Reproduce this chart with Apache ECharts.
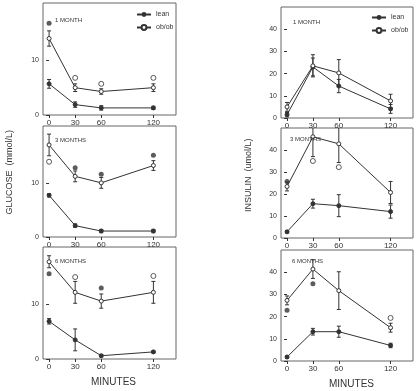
<!DOCTYPE html>
<html><head><meta charset="utf-8">
<script src="https://cdn.jsdelivr.net/npm/echarts@6/dist/echarts.min.js"></script>
<style>html,body{margin:0;padding:0;background:#fff}#c{width:420px;height:391px}</style>
</head><body><div id="c"></div>
<script>
// ---------- data ----------
const minutes = [0, 30, 60, 120];
const xTicks = [0, 30, 60, 120];
const glucoseTicks = [0, 10];
const insulinTicks = [0, 10, 20, 30, 40];
const panelLabels = ['1 MONTH', '3 MONTHS', '6 MONTHS'];
const seriesNames = ['lean', 'ob/ob'];

// Glucose (mmol/L)
const gluLean1 = [5.7, 1.9, 1.3, 1.3];
const gluLeanErr1 = [0.8, 0.5, 0.4, 0.3];
const gluOb1 = [14.0, 5.0, 4.3, 5.0];
const gluObErr1 = [1.4, 0.7, 0.5, 0.7];
const gluMarkFilled1 = [[0, 16.8]];
const gluMarkOpen1 = [[30, 6.8], [60, 5.7], [120, 6.8]];

const gluLean3 = [7.7, 2.1, 1.1, 1.1];
const gluLeanErr3 = [0.3, 0.3, 0.3, 0.3];
const gluOb3 = [17.0, 11.2, 10.0, 13.2];
const gluObErr3 = [2.0, 1.0, 1.0, 0.9];
const gluMarkFilled3 = [[30, 12.8], [60, 11.6], [120, 15.1]];
const gluMarkOpen3 = [[0, 13.9]];

const gluLean6 = [6.9, 3.5, 0.6, 1.3];
const gluLeanErr6 = [0.5, 2.0, 0.2, 0.2];
const gluOb6 = [17.8, 12.2, 10.6, 12.2];
const gluObErr6 = [1.1, 2.0, 1.3, 2.0];
const gluMarkFilled6 = [[0, 15.6], [60, 13.0]];
const gluMarkOpen6 = [[30, 15.0], [120, 15.2]];

// Insulin
const insLean1 = [1.5, 23.0, 14.4, 4.1];
const insLeanErr1 = [1.0, 4.0, 3.0, 2.0];
const insOb1 = [5.0, 23.5, 20.3, 7.7];
const insObErr1 = [2.0, 5.0, 6.0, 3.0];
const insMarkFilled1 = [];
const insMarkOpen1 = [];

const insLean3 = [2.8, 15.6, 14.7, 12.0];
const insLeanErr3 = [0.5, 2.0, 5.0, 3.0];
const insOb3 = [23.4, 46.0, 42.8, 20.7];
const insObErr3 = [2.0, 9.0, 8.5, 5.0];
const insMarkFilled3 = [[0, 25.7]];
const insMarkOpen3 = [[30, 35.0], [60, 32.2]];

const insLean6 = [1.8, 13.2, 13.2, 7.0];
const insLeanErr6 = [0.5, 1.5, 2.5, 1.0];
const insOb6 = [27.3, 41.4, 31.7, 15.0];
const insObErr6 = [2.0, 4.2, 8.5, 2.0];
const insMarkFilled6 = [[0, 22.9], [30, 34.8]];
const insMarkOpen6 = [[120, 19.4]];

// ---------- layout ----------
const INK = '#333';
const FONT = 'Liberation Sans, Arial, sans-serif';
const panels = [
  {grid:{left:43,width:133,top:3,height:112}, yMax:20.5, yTicks:glucoseTicks, label:panelLabels[0], lx:50, ly:12,
   lean:gluLean1, leanErr:gluLeanErr1, ob:gluOb1, obErr:gluObErr1, mf:gluMarkFilled1, mo:gluMarkOpen1},
  {grid:{left:43,width:133,top:126,height:111}, yMax:20.5, yTicks:glucoseTicks, label:panelLabels[1], lx:50, ly:132,
   lean:gluLean3, leanErr:gluLeanErr3, ob:gluOb3, obErr:gluObErr3, mf:gluMarkFilled3, mo:gluMarkOpen3},
  {grid:{left:43,width:133,top:247,height:112}, yMax:20.5, yTicks:glucoseTicks, label:panelLabels[2], lx:50, ly:253,
   lean:gluLean6, leanErr:gluLeanErr6, ob:gluOb6, obErr:gluObErr6, mf:gluMarkFilled6, mo:gluMarkOpen6},
  {grid:{left:281,width:132,top:7,height:111}, yMax:50, yTicks:insulinTicks, label:panelLabels[0], lx:288, ly:14,
   lean:insLean1, leanErr:insLeanErr1, ob:insOb1, obErr:insObErr1, mf:insMarkFilled1, mo:insMarkOpen1},
  {grid:{left:281,width:132,top:128,height:110}, yMax:50, yTicks:insulinTicks, label:panelLabels[1], lx:285, ly:131,
   lean:insLean3, leanErr:insLeanErr3, ob:insOb3, obErr:insObErr3, mf:insMarkFilled3, mo:insMarkOpen3},
  {grid:{left:281,width:132,top:250,height:111}, yMax:50, yTicks:insulinTicks, label:panelLabels[2], lx:287, ly:253,
   lean:insLean6, leanErr:insLeanErr6, ob:insOb6, obErr:insObErr6, mf:insMarkFilled6, mo:insMarkOpen6}
];

function errRender(params, api) {
  const x = api.value(0), lo = api.value(1), hi = api.value(2);
  const cs = params.coordSys;
  const p1 = api.coord([x, hi]), p2 = api.coord([x, lo]);
  const style = {stroke: INK, lineWidth: 1};
  const w = 2;
  const kids = [];
  let top = p1[1], bot = p2[1];
  const topClipped = top < cs.y, botClipped = bot > cs.y + cs.height;
  top = Math.max(top, cs.y); bot = Math.min(bot, cs.y + cs.height);
  kids.push({type:'line', shape:{x1:p1[0], y1:top, x2:p1[0], y2:bot}, style});
  if (!topClipped) kids.push({type:'line', shape:{x1:p1[0]-w, y1:top, x2:p1[0]+w, y2:top}, style});
  if (!botClipped) kids.push({type:'line', shape:{x1:p1[0]-w, y1:bot, x2:p1[0]+w, y2:bot}, style});
  return {type:'group', children:kids};
}

const openStyle = {color:'#fff', borderColor:INK, borderWidth:1};
const grid = [], xAxis = [], yAxis = [], series = [], title = [];
panels.forEach((p, i) => {
  grid.push(Object.assign({show:true, borderColor:'#666', borderWidth:1, backgroundColor:'transparent'}, p.grid));
  xAxis.push({type:'value', gridIndex:i, min:-7, max:146,
    axisLine:{show:false}, splitLine:{show:false},
    axisTick:{show:true, customValues:xTicks, length:3, lineStyle:{color:INK}},
    axisLabel:{customValues:xTicks, fontSize:8, color:INK, margin:4, fontFamily:FONT}});
  yAxis.push({type:'value', gridIndex:i, min:0, max:p.yMax,
    axisLine:{show:false}, splitLine:{show:false},
    axisTick:{show:true, customValues:p.yTicks, length:3, lineStyle:{color:INK}},
    axisLabel:{customValues:p.yTicks, fontSize:7, color:INK, margin:4, fontFamily:FONT}});
  title.push({text:p.label, left:p.lx, top:p.ly, textStyle:{fontSize:6, fontWeight:'normal', color:INK, fontFamily:FONT}});
  const lineBase = {type:'line', xAxisIndex:i, yAxisIndex:i, symbolSize:4, z:3,
    lineStyle:{color:INK, width:1}, animation:false};
  series.push(Object.assign({}, lineBase, {name:seriesNames[0], symbol:'circle',
    itemStyle:{color:INK, borderColor:INK},
    data:minutes.map((m, k) => [m, p.lean[k]])}));
  series.push(Object.assign({}, lineBase, {name:seriesNames[1], symbol:'circle', symbolSize:4,
    itemStyle:openStyle,
    data:minutes.map((m, k) => [m, p.ob[k]])}));
  series.push({type:'custom', name:'err', xAxisIndex:i, yAxisIndex:i, renderItem:errRender, animation:false, z:2,
    data:minutes.map((m, k) => [m, p.lean[k]-p.leanErr[k], p.lean[k]+p.leanErr[k]])
      .concat(minutes.map((m, k) => [m, p.ob[k]-p.obErr[k], p.ob[k]+p.obErr[k]]))});
  series.push({type:'scatter', name:'sigFilled', xAxisIndex:i, yAxisIndex:i, symbol:'circle', symbolSize:5,
    itemStyle:{color:INK}, data:p.mf, animation:false});
  series.push({type:'scatter', name:'sigOpen', xAxisIndex:i, yAxisIndex:i, symbol:'circle', symbolSize:5,
    itemStyle:openStyle, data:p.mo, animation:false});
});

const legendBase = {orient:'vertical', data:seriesNames, itemWidth:14, itemHeight:6, itemGap:6,
  textStyle:{fontSize:7, color:INK, fontFamily:FONT}, selectedMode:false};

const chart = echarts.init(document.getElementById('c'), null, {renderer:'canvas'});
chart.setOption({
  animation:false,
  backgroundColor:'#fff',
  title,
  legend:[
    Object.assign({}, legendBase, {left:131, top:6}),
    Object.assign({}, legendBase, {left:366, top:9})
  ],
  grid, xAxis, yAxis, series,
  graphic:[
    {type:'text', left:5, top:130, rotation:Math.PI/2, style:{text:'GLUCOSE  (mmol/L)', fontSize:9, fill:INK, fontFamily:FONT}},
    {type:'text', x:244, y:212, rotation:Math.PI/2, style:{text:'INSULIN  (umol/L)', fontSize:9, fill:INK, fontFamily:FONT}},
    {type:'text', left:91, top:377, style:{text:'MINUTES', fontSize:10, fill:INK, fontFamily:FONT}},
    {type:'text', left:329, top:379, style:{text:'MINUTES', fontSize:10, fill:INK, fontFamily:FONT}}
  ]
});
</script></body></html>
